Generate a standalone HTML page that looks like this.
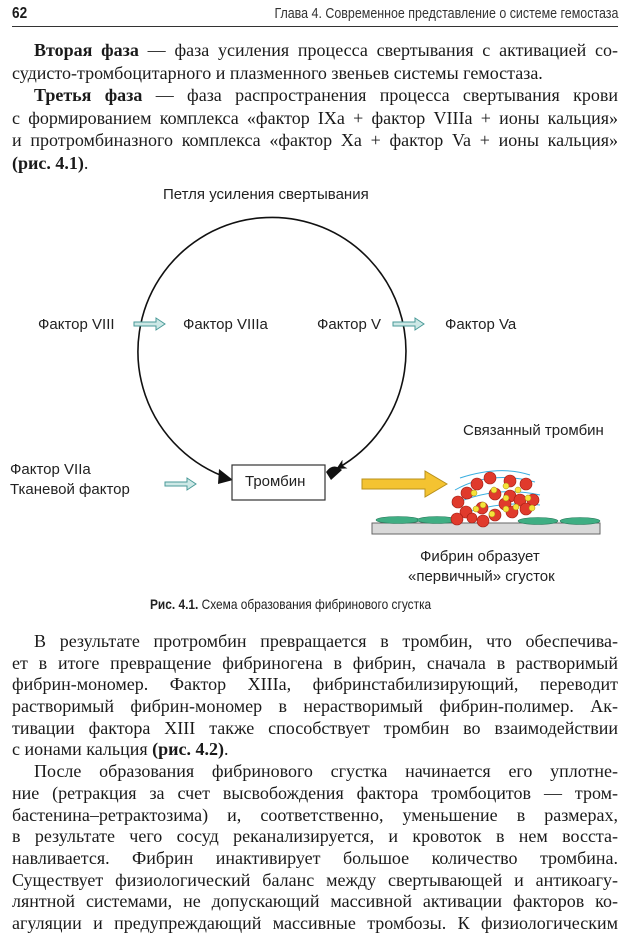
<!DOCTYPE html>
<html><head><meta charset="utf-8">
<style>
body{margin:0;width:630px;height:940px;background:#fff;position:relative;overflow:hidden;font-family:"Liberation Serif","DejaVu Serif",serif;color:#1a1a1a}
.hdr{position:absolute;top:2px;left:12px;right:12px;height:24px;font-family:"Liberation Sans",sans-serif;font-size:15px;border-bottom:1.5px solid #333}
.hdr b{position:absolute;left:0;top:3px;font-size:16px;transform:scaleX(.85);transform-origin:left}
.hdr span{position:absolute;right:0;top:3px;white-space:nowrap;transform:scaleX(.83);transform-origin:right;color:#333}
.t{position:absolute;left:12px;width:606px;font-size:18px;line-height:22px}
.l{text-align:justify;text-align-last:justify;white-space:nowrap;height:22.6px}
.b .l{height:21.7px}
.l.e{text-align-last:left}
.i{padding-left:22px}
.s{position:absolute;font-family:"Liberation Sans",sans-serif;font-size:15px;white-space:nowrap;color:#222}
</style></head><body>
<div class="hdr"><b>62</b><span>Глава 4. Современное представление о системе гемостаза</span></div>

<div class="t" style="top:39px">
<div class="l i"><b>Вторая фаза</b> — фаза усиления процесса свертывания с активацией со-</div>
<div class="l e">судисто-тромбоцитарного и плазменного звеньев системы гемостаза.</div>
<div class="l i"><b>Третья фаза</b> — фаза распространения процесса свертывания крови</div>
<div class="l">с формированием комплекса «фактор IXa + фактор VIIIa + ионы кальция»</div>
<div class="l">и протромбиназного комплекса «фактор Xa + фактор Va + ионы кальция»</div>
<div class="l e"><b>(рис. 4.1)</b>.</div>
</div>

<svg style="position:absolute;left:0;top:0" width="630" height="620">
<defs>
<marker id="ah" markerWidth="10" markerHeight="10" refX="8" refY="5" orient="auto" markerUnits="userSpaceOnUse"><path d="M0,0 L10,5 L0,10 L3,5z" fill="#111"/></marker>
</defs>
<path d="M228,478 A134,134 0 1 1 338,468" fill="none" stroke="#111" stroke-width="1.6" marker-end="url(#ah)"/>
<path d="M219,469 L233,480 L218,484 z" fill="#111"/>
<path d="M326,472 Q333,462 342,470 L331,480 z" fill="#111"/>
<g fill="#cde8e6" stroke="#4a9a98" stroke-width="1">
<path d="M134,322 h22 v-4 l9,6 -9,6 v-4 h-22z"/>
<path d="M393,322 h22 v-4 l9,6 -9,6 v-4 h-22z"/>
<path d="M165,482 h22 v-4 l9,6 -9,6 v-4 h-22z"/>
</g>
<rect x="232" y="465" width="93" height="35" fill="#fff" stroke="#333" stroke-width="1.2"/>
<path d="M362,479 h63 v-8 l22,13 -22,13 v-8 h-63z" fill="#f4c331" stroke="#b8901c" stroke-width="1"/>
<rect x="372" y="523" width="228" height="11" fill="#d9d9d9" stroke="#666" stroke-width="1"/>
<g fill="#3fae83" stroke="#2a7a5c" stroke-width=".6">
<ellipse cx="398" cy="520" rx="22" ry="3.5"/><ellipse cx="437" cy="520" rx="20" ry="3.5"/>
<ellipse cx="538" cy="521" rx="20" ry="3.5"/><ellipse cx="580" cy="521" rx="20" ry="3.5"/>
</g>
<g fill="none" stroke="#3aaee0" stroke-width="1">
<path d="M455,490 Q490,470 535,482"/><path d="M452,505 Q495,485 540,495"/><path d="M455,517 Q495,500 540,505"/><path d="M460,478 Q500,465 530,475"/>
</g>
<g fill="#e03a2c" stroke="#a01a10" stroke-width=".6">
<circle cx="490" cy="478" r="6"/><circle cx="477" cy="484" r="6"/><circle cx="510" cy="481" r="6"/><circle cx="526" cy="484" r="6"/>
<circle cx="467" cy="493" r="6"/><circle cx="458" cy="502" r="6"/><circle cx="495" cy="494" r="6"/><circle cx="510" cy="496" r="6"/>
<circle cx="520" cy="500" r="6"/><circle cx="533" cy="500" r="6"/><circle cx="505" cy="504" r="6"/><circle cx="466" cy="512" r="6"/>
<circle cx="482" cy="508" r="6"/><circle cx="495" cy="515" r="6"/><circle cx="512" cy="512" r="6"/><circle cx="526" cy="509" r="6"/>
<circle cx="457" cy="519" r="6"/><circle cx="483" cy="521" r="6"/><circle cx="472" cy="518" r="5"/>
</g>
<g fill="#f6e23a" stroke="#a08a10" stroke-width=".5">
<circle cx="474" cy="493" r="3"/><circle cx="494" cy="490" r="3"/><circle cx="506" cy="486" r="3"/><circle cx="518" cy="490" r="3"/>
<circle cx="528" cy="498" r="3"/><circle cx="483" cy="505" r="3"/><circle cx="476" cy="509" r="3"/><circle cx="506" cy="498" r="3"/>
<circle cx="516" cy="507" r="3"/><circle cx="532" cy="508" r="3"/><circle cx="492" cy="514" r="3"/><circle cx="506" cy="509" r="3"/>
</g>
</svg>

<div class="s" style="left:163px;top:186px">Петля усиления свертывания</div>
<div class="s" style="left:38px;top:316px">Фактор VIII</div>
<div class="s" style="left:183px;top:316px">Фактор VIIIa</div>
<div class="s" style="left:317px;top:316px">Фактор V</div>
<div class="s" style="left:445px;top:316px">Фактор Va</div>
<div class="s" style="left:463px;top:422px">Связанный тромбин</div>
<div class="s" style="left:10px;top:461px">Фактор VIIa</div>
<div class="s" style="left:10px;top:481px">Тканевой фактор</div>
<div class="s" style="left:245px;top:473px">Тромбин</div>
<div class="s" style="left:420px;top:548px">Фибрин образует</div>
<div class="s" style="left:408px;top:568px">«первичный» сгусток</div>
<div class="s" style="left:150px;top:596px;font-size:14px;transform:scaleX(.85);transform-origin:left"><b>Рис. 4.1.</b> Схема образования фибринового сгустка</div>

<div class="t b" style="top:630px">
<div class="l i">В результате протромбин превращается в тромбин, что обеспечива-</div>
<div class="l">ет в итоге превращение фибриногена в фибрин, сначала в растворимый</div>
<div class="l">фибрин-мономер. Фактор XIIIa, фибринстабилизирующий, переводит</div>
<div class="l">растворимый фибрин-мономер в нерастворимый фибрин-полимер. Ак-</div>
<div class="l">тивации фактора XIII также способствует тромбин во взаимодействии</div>
<div class="l e">с ионами кальция <b>(рис. 4.2)</b>.</div>
<div class="l i">После образования фибринового сгустка начинается его уплотне-</div>
<div class="l">ние (ретракция за счет высвобождения фактора тромбоцитов — тром-</div>
<div class="l">бастенина–ретрактозима) и, соответственно, уменьшение в размерах,</div>
<div class="l">в результате чего сосуд реканализируется, и кровоток в нем восста-</div>
<div class="l">навливается. Фибрин инактивирует большое количество тромбина.</div>
<div class="l">Существует физиологический баланс между свертывающей и антикоагу-</div>
<div class="l">лянтной системами, не допускающий массивной активации факторов ко-</div>
<div class="l">агуляции и предупреждающий массивные тромбозы. К физиологическим</div>
</div>
</body></html>
